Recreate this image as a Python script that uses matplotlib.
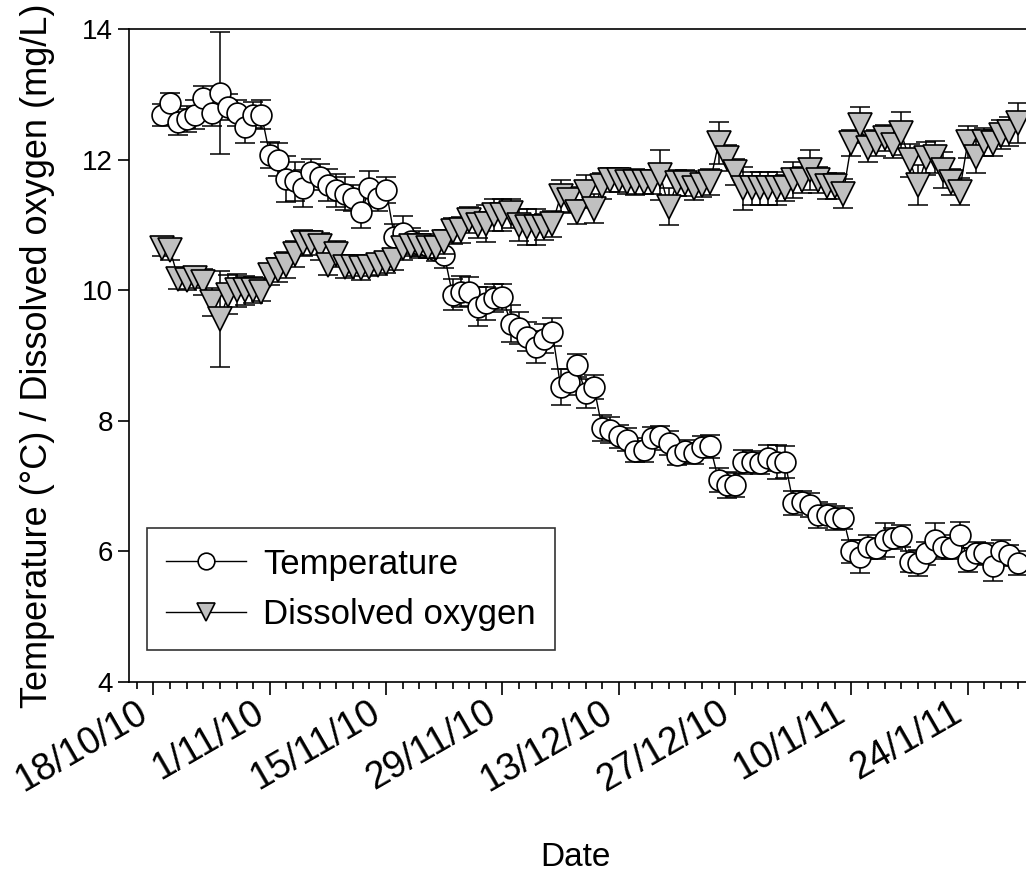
import matplotlib
matplotlib.use("Agg")
import matplotlib.pyplot as plt
import matplotlib.dates as mdates
import numpy as np
import pandas as pd

plt.rcParams['font.family'] = ['Liberation Sans', 'DejaVu Sans']

####################
# daily readings, 19/10/10 .. 31/1/11
first_day = "2010-10-19"

temp = [12.68, 12.86, 12.58, 12.62, 12.69, 12.94, 12.71, 13.02, 12.80, 12.71,
        12.50, 12.68, 12.69, 12.07, 12.00, 11.70, 11.67, 11.56, 11.81, 11.74,
        11.61, 11.53, 11.48, 11.41, 11.19, 11.56, 11.41, 11.53, 10.82, 10.87,
        10.75, 10.70, 10.68, 10.62, 10.54, 9.93, 9.98, 9.98, 9.75, 9.80,
        9.88, 9.90, 9.49, 9.42, 9.29, 9.13, 9.26, 9.36, 8.52, 8.60,
        8.85, 8.42, 8.52, 7.89, 7.86, 7.76, 7.71, 7.53, 7.55, 7.73,
        7.76, 7.66, 7.48, 7.53, 7.50, 7.60, 7.61, 7.09, 7.02, 7.02,
        7.37, 7.37, 7.35, 7.43, 7.37, 7.37, 6.74, 6.76, 6.71, 6.56,
        6.56, 6.51, 6.51, 6.00, 5.92, 6.07, 6.05, 6.17, 6.20, 6.23,
        5.84, 5.82, 5.97, 6.17, 6.07, 6.05, 6.25, 5.87, 5.97, 5.97,
        5.77, 6.00, 5.94, 5.82]

temp_err = [0.17, 0.16, 0.20, 0.20, 0.22, 0.18, 0.20, 0.94, 0.20, 0.20,
            0.24, 0.20, 0.22, 0.20, 0.25, 0.35, 0.30, 0.28, 0.20, 0.20,
            0.25, 0.25, 0.25, 0.20, 0.23, 0.27, 0.20, 0.20, 0.20, 0.27,
            0.20, 0.20, 0.18, 0.18, 0.20, 0.24, 0.24, 0.22, 0.30, 0.25,
            0.22, 0.20, 0.28, 0.25, 0.22, 0.25, 0.22, 0.22, 0.28, 0.20,
            0.18, 0.22, 0.18, 0.20, 0.20, 0.18, 0.18, 0.16, 0.18, 0.18,
            0.16, 0.18, 0.16, 0.18, 0.16, 0.16, 0.18, 0.18, 0.20, 0.18,
            0.18, 0.16, 0.16, 0.20, 0.26, 0.25, 0.18, 0.16, 0.18, 0.20,
            0.16, 0.18, 0.16, 0.18, 0.25, 0.18, 0.16, 0.26, 0.16, 0.17,
            0.16, 0.20, 0.18, 0.26, 0.18, 0.16, 0.20, 0.18, 0.18, 0.16,
            0.23, 0.18, 0.16, 0.18]

oxygen = [10.65, 10.62, 10.17, 10.16, 10.18, 10.13, 9.82, 9.56, 9.93, 10.00,
          10.00, 10.00, 9.98, 10.23, 10.31, 10.39, 10.56, 10.72, 10.72, 10.67,
          10.39, 10.56, 10.36, 10.36, 10.34, 10.36, 10.38, 10.41, 10.46, 10.64,
          10.67, 10.67, 10.64, 10.64, 10.74, 10.90, 10.92, 11.08, 11.00, 11.02,
          11.15, 11.15, 11.18, 11.00, 10.97, 10.97, 10.97, 11.02, 11.44, 11.38,
          11.20, 11.51, 11.25, 11.59, 11.69, 11.69, 11.66, 11.66, 11.66, 11.66,
          11.76, 11.28, 11.64, 11.64, 11.56, 11.61, 11.66, 12.25, 12.02, 11.81,
          11.56, 11.56, 11.56, 11.56, 11.56, 11.56, 11.69, 11.69, 11.84, 11.69,
          11.59, 11.59, 11.48, 12.25, 12.53, 12.17, 12.25, 12.33, 12.22, 12.40,
          11.99, 11.61, 12.02, 12.04, 11.84, 11.66, 11.51, 12.27, 12.04, 12.27,
          12.25, 12.38, 12.43, 12.56]

oxygen_err = [0.13, 0.15, 0.15, 0.15, 0.15, 0.20, 0.22, 0.73, 0.30, 0.25,
              0.22, 0.20, 0.15, 0.15, 0.18, 0.20, 0.20, 0.20, 0.18, 0.20,
              0.15, 0.20, 0.18, 0.15, 0.18, 0.15, 0.15, 0.15, 0.15, 0.18,
              0.15, 0.15, 0.15, 0.15, 0.18, 0.20, 0.20, 0.20, 0.20, 0.28,
              0.25, 0.25, 0.22, 0.25, 0.28, 0.28, 0.20, 0.20, 0.25, 0.20,
              0.18, 0.25, 0.22, 0.20, 0.18, 0.18, 0.18, 0.20, 0.18, 0.18,
              0.38, 0.28, 0.20, 0.20, 0.18, 0.18, 0.20, 0.32, 0.20, 0.20,
              0.33, 0.25, 0.25, 0.25, 0.25, 0.20, 0.28, 0.20, 0.31, 0.20,
              0.20, 0.20, 0.22, 0.20, 0.28, 0.20, 0.20, 0.20, 0.20, 0.33,
              0.25, 0.31, 0.25, 0.25, 0.28, 0.20, 0.21, 0.25, 0.25, 0.22,
              0.20, 0.22, 0.22, 0.30]

tick_dates = ["2010-10-18", "2010-11-01", "2010-11-15", "2010-11-29",
              "2010-12-13", "2010-12-27", "2011-01-10", "2011-01-24"]
tick_labels = ["18/10/10", "1/11/10", "15/11/10", "29/11/10",
               "13/12/10", "27/12/10", "10/1/11", "24/1/11"]
####################

dates = pd.date_range(first_day, periods=len(temp), freq="D")

fig = plt.figure(figsize=(10.26, 8.75), dpi=100)
ax = fig.add_axes([128.5 / 1026, 1 - 682 / 875, 905.8 / 1026, 653 / 875])

### temperature: white circles
ax.errorbar(dates, temp, yerr=temp_err, fmt='none', ecolor='k',
            elinewidth=1.1, capsize=7, capthick=1.1, zorder=2)
l1, = ax.plot(dates, temp, '-', color='k', lw=1.0, marker='o', ms=15,
              mfc='white', mec='k', mew=1.2, zorder=3, label='Temperature')

### dissolved oxygen: grey triangles
ax.errorbar(dates, oxygen, yerr=oxygen_err, fmt='none', ecolor='k',
            elinewidth=1.1, capsize=7, capthick=1.1, zorder=4)
l2, = ax.plot(dates, oxygen, '-', color='k', lw=1.0, marker='v', ms=17,
              mfc='#c0c0c0', mec='k', mew=1.2, zorder=5, label='Dissolved oxygen')

ax.set_xlim(pd.Timestamp("2010-10-15"), pd.Timestamp("2011-02-01"))
ax.set_ylim(4, 14)
ax.set_yticks([4, 6, 8, 10, 12, 14])

ticks = mdates.date2num(pd.to_datetime(tick_dates))
ax.set_xticks(ticks)
ax.set_xticklabels(tick_labels, rotation=30, ha='right', va='top')
minor = np.arange(mdates.date2num(pd.Timestamp("2010-10-16")),
                  mdates.date2num(pd.Timestamp("2011-02-01")), 2)
ax.set_xticks(minor, minor=True)

ax.tick_params(axis='x', which='major', length=9, width=1.2, labelsize=27, pad=0)
ax.tick_params(axis='x', which='minor', length=5, width=1.2)
ax.tick_params(axis='y', which='major', length=8, width=1.2, labelsize=20, pad=3)
for s in ['left', 'bottom', 'top']:
    ax.spines[s].set_linewidth(1.2)
ax.spines['right'].set_visible(False)

ax.set_ylabel("Temperature (°C) / Dissolved oxygen (mg/L)", fontsize=26)
ax.yaxis.set_label_coords(-0.081, 0.5)
ax.set_xlabel("Date", fontsize=24)
ax.xaxis.set_label_coords((575 - 128.5) / 905.8, -(842 - 682) / 653)

leg = ax.legend(handles=[l1, l2], loc='lower left',
                bbox_to_anchor=(147 / 1026, 1 - 650 / 875),
                bbox_transform=fig.transFigure, borderaxespad=0,
                fontsize=25, frameon=True, fancybox=False, markerscale=0.8,
                handlelength=2.3, handletextpad=0.5, borderpad=0.55,
                labelspacing=0.5)
leg.get_frame().set_edgecolor('k')
leg.get_frame().set_linewidth(1.2)

fig.savefig("out.png", dpi=100)
